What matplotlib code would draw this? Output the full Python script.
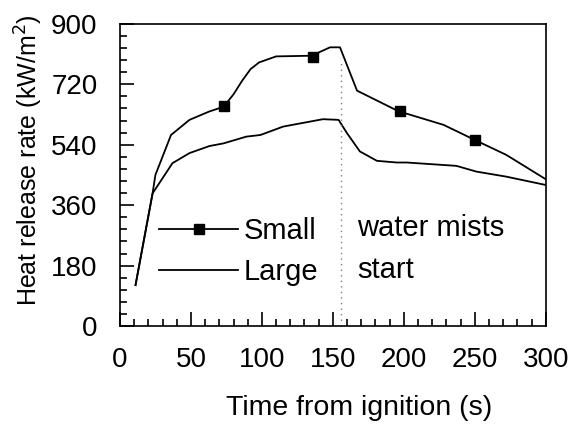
import matplotlib
matplotlib.use('Agg')
import matplotlib.pyplot as plt
from matplotlib.ticker import MultipleLocator

plt.rcParams['font.family'] = ['Liberation Sans', 'DejaVu Sans']

# small fire curve
small_t = [11, 23, 25, 36, 49, 63, 73, 80, 86, 92, 98, 110, 135, 148, 155, 167, 196, 228, 250, 272, 300]
small_q = [122, 395, 450, 569, 614, 639, 653, 690, 730, 765, 785, 803, 805, 830, 830, 701, 640, 599, 554, 510, 437]
# marker positions on the small curve
mark_t = [73, 136, 197, 250]
mark_q = [655, 802, 640, 554]

# large fire curve
large_t = [11, 23, 37, 49, 63, 73, 89, 99, 115, 143, 154, 160, 169, 181, 195, 202, 237, 251, 272, 300]
large_q = [122, 395, 485, 515, 536, 544, 564, 569, 594, 616, 614, 574, 520, 492, 487, 487, 477, 460, 445, 420]

mist_t = 156

fig = plt.figure(figsize=(5.71, 4.33), dpi=100)
ax = fig.add_axes([0.210, 0.247, 0.746, 0.698])

ax.plot(small_t, small_q, color='black', lw=1.3)
ax.plot(mark_t, mark_q, ls='none', marker='s', ms=7, color='black')
ax.plot(large_t, large_q, color='black', lw=1.3)
ax.plot([mist_t, mist_t], [0, 790], color='0.5', lw=1, ls=(0, (1, 3)))

# legend handles
h1, = ax.plot([], [], color='black', lw=1.3, marker='s', ms=7, label='Small')
h2, = ax.plot([], [], color='black', lw=1.3, label='Large')
ax.legend(handles=[h1, h2], loc='upper left', bbox_to_anchor=(0.058, 0.41),
          frameon=False, fontsize=21, handlelength=2.7, handletextpad=0.2,
          labelspacing=0.45, borderpad=0)

ax.text(167, 292, 'water mists', fontsize=21, va='center')
ax.text(167, 166, 'start', fontsize=21, va='center')

ax.set_xlim(0, 300)
ax.set_ylim(0, 900)
ax.xaxis.set_major_locator(MultipleLocator(50))
ax.xaxis.set_minor_locator(MultipleLocator(10))
ax.yaxis.set_major_locator(MultipleLocator(180))
ax.yaxis.set_minor_locator(MultipleLocator(36))
ax.tick_params(which='both', direction='in', labelsize=20, width=1.2)
ax.tick_params(axis='x', which='major', length=10, pad=15)
ax.tick_params(axis='y', which='major', length=10, pad=16)
ax.tick_params(which='minor', length=5)
for s in ax.spines.values():
    s.set_linewidth(1.2)

ax.set_xlabel('Time from ignition (s)', fontsize=20.5)
ax.set_ylabel('Heat release rate (kW/m$^2$)', fontsize=18)
ax.xaxis.set_label_coords(0.561, -0.228)
ax.yaxis.set_label_coords(-0.176, 0.55)

fig.savefig('out.png', dpi=100)
